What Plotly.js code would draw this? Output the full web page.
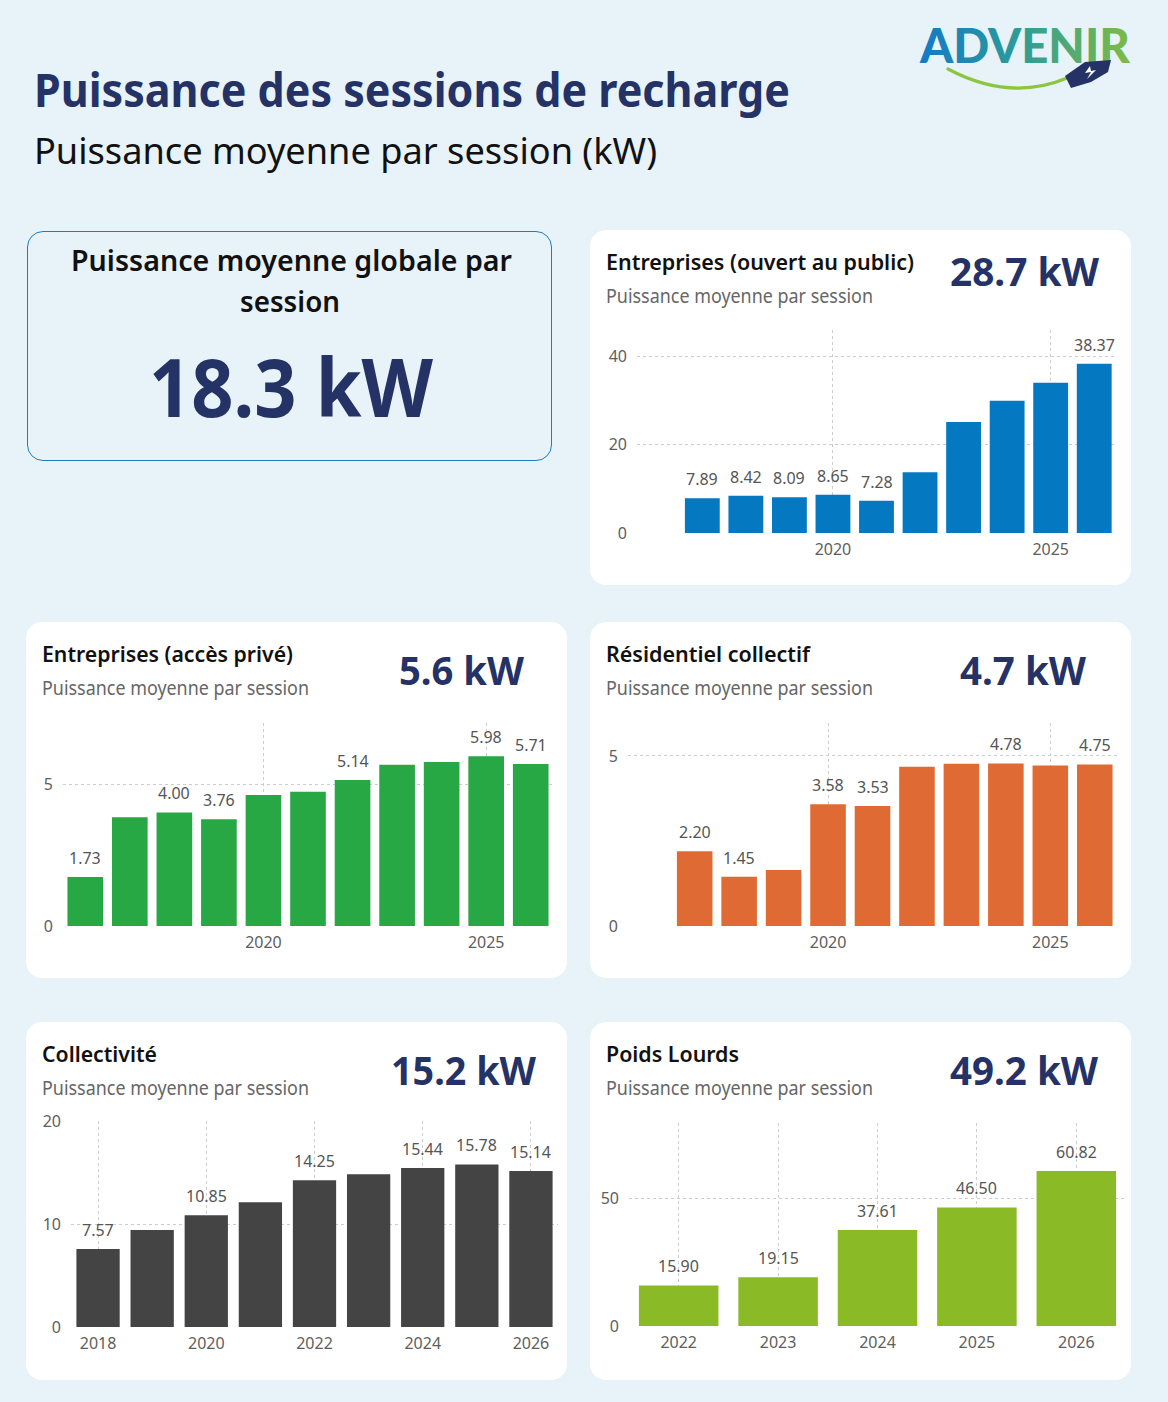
<!DOCTYPE html>
<html>
<head>
<meta charset="utf-8">
<script src="https://cdn.plot.ly/plotly-3.0.1.min.js"></script>
<style>
html,body{margin:0;padding:0;}
body{width:1168px;height:1402px;background:#e8f3f9;position:relative;overflow:hidden;font-family:"Noto Sans","Open Sans",sans-serif;}
.card{position:absolute;background:#ffffff;border-radius:16px;}
.kpibox{position:absolute;border:1.3px solid #1c7cc4;border-radius:16px;box-sizing:border-box;}
.txt{position:absolute;white-space:nowrap;transform-origin:0 50%;}
.chart{position:absolute;}
</style>
</head>
<body>
<script>
// ---------- DATA ----------
const yearsPublic  = [2017, 2018, 2019, 2020, 2021, 2022, 2023, 2024, 2025, 2026];
const valuesPublic = [7.89, 8.42, 8.09, 8.65, 7.28, 13.77, 25.13, 29.94, 34.02, 38.37];
const labelsPublic = [true, true, true, true, true, false, false, false, false, true];

const yearsPrive  = [2016, 2017, 2018, 2019, 2020, 2021, 2022, 2023, 2024, 2025, 2026];
const valuesPrive = [1.73, 3.83, 4.00, 3.76, 4.61, 4.73, 5.14, 5.68, 5.78, 5.98, 5.71];
const labelsPrive = [true, false, true, true, false, false, true, false, false, true, true];

const yearsResid  = [2017, 2018, 2019, 2020, 2021, 2022, 2023, 2024, 2025, 2026];
const valuesResid = [2.20, 1.45, 1.65, 3.58, 3.53, 4.68, 4.77, 4.78, 4.72, 4.75];
const labelsResid = [true, true, false, true, true, false, false, true, false, true];

const yearsCollect  = [2018, 2019, 2020, 2021, 2022, 2023, 2024, 2025, 2026];
const valuesCollect = [7.57, 9.42, 10.85, 12.11, 14.25, 14.83, 15.44, 15.78, 15.14];
const labelsCollect = [true, false, true, false, true, false, true, true, true];

const yearsPL  = [2022, 2023, 2024, 2025, 2026];
const valuesPL = [15.90, 19.15, 37.61, 46.50, 60.82];
const labelsPL = [true, true, true, true, true];

const pageTitle = "Puissance des sessions de recharge";
const pageSubtitle = "Puissance moyenne par session (kW)";
const globalLabel = ["Puissance moyenne globale par", "session"];
const globalValue = "18.3 kW";
const cardSubtitle = "Puissance moyenne par session";
const cardTitles = ["Entreprises (ouvert au public)", "Entreprises (accès privé)", "Résidentiel collectif", "Collectivité", "Poids Lourds"];
const cardValues = ["28.7 kW", "5.6 kW", "4.7 kW", "15.2 kW", "49.2 kW"];

// ---------- HELPERS ----------
function addText(txt, x, cy, fs, o) {
  o = o || {};
  const d = document.createElement('div');
  d.className = 'txt';
  d.textContent = txt;
  d.style.fontSize = fs + 'px';
  d.style.lineHeight = fs + 'px';
  d.style.fontWeight = o.weight || 400;
  d.style.color = o.color || '#000';
  d.style.top = (cy - 0.57 * fs) + 'px';
  document.body.appendChild(d);
  const w = d.getBoundingClientRect().width;
  let target = o.w || w;
  let left = x;
  if (o.align === 'center') left = x - target / 2;
  d.style.left = left + 'px';
  if (o.w) d.style.transform = 'scaleX(' + (o.w / w) + ')';
  return d;
}
function addBox(cls, x, y, w, h) {
  const d = document.createElement('div');
  d.className = cls;
  Object.assign(d.style, {left: x + 'px', top: y + 'px', width: w + 'px', height: h + 'px'});
  document.body.appendChild(d);
  return d;
}

// ---------- STATIC LAYOUT ----------
const NAVY = '#243266';
addText(pageTitle, 34, 92, 46, {weight: 700, color: NAVY, w: 756});
addText(pageSubtitle, 34, 152, 37, {weight: 400, color: '#111', w: 623});

addBox('kpibox', 27, 231, 525, 230);
addText(globalLabel[0], 291, 262, 29, {weight: 600, color: '#111', align: 'center', w: 441});
addText(globalLabel[1], 290, 303, 29, {weight: 600, color: '#111', align: 'center', w: 100});
addText(globalValue, 291, 392, 80, {weight: 700, color: NAVY, align: 'center', w: 284});

const cards = [
  {x: 590, y: 230, w: 541, h: 355, tw: 308, vx: 1024, vy: 273, vw: 149},
  {x: 26,  y: 622, w: 541, h: 356, tw: 251, vx: 461,  vy: 672, vw: 125},
  {x: 590, y: 622, w: 541, h: 356, tw: 204, vx: 1023, vy: 672, vw: 126},
  {x: 26,  y: 1022, w: 541, h: 358, tw: 115, vx: 463, vy: 1072, vw: 145},
  {x: 590, y: 1022, w: 541, h: 358, tw: 133, vx: 1024, vy: 1072, vw: 148}
];
cards.forEach((c, i) => {
  addBox('card', c.x, c.y, c.w, c.h);
  addText(cardTitles[i], c.x + 16, c.y + 33, 22, {weight: 600, color: '#111', w: c.tw});
  addText(cardSubtitle, c.x + 16, c.y + 68, 19, {weight: 400, color: '#666', w: 267});
  addText(cardValues[i], c.vx, c.vy, 39, {weight: 700, color: NAVY, align: 'center', w: c.vw});
});

// ---------- LOGO ----------
const logo = document.createElement('div');
logo.style.position = 'absolute'; logo.style.left = '915px'; logo.style.top = '18px';
logo.innerHTML =
 '<svg width="230" height="80" xmlns="http://www.w3.org/2000/svg">' +
 '<defs><linearGradient id="lg" x1="0" x2="1" y1="0" y2="0">' +
 '<stop offset="0" stop-color="#1479c6"/><stop offset="0.45" stop-color="#2a9a9c"/>' +
 '<stop offset="1" stop-color="#7dbb45"/></linearGradient></defs>' +
 '<text x="5" y="45" font-family="Lato, Noto Sans, sans-serif" font-weight="900" font-size="47" fill="url(#lg)" textLength="210" lengthAdjust="spacingAndGlyphs">ADVENIR</text>' +
 '<path d="M33 51 Q 95 84 152 60" fill="none" stroke="#8cc63f" stroke-width="3.2" stroke-linecap="round"/>' +
 '<path d="M150 58 L170 44 L196 42 L193 54 L176 64 L156 70 Z" fill="#243266"/>' +
 '<path d="M175 48 L170 55 L176 54 L172 61 L181 52 L176 53 Z" fill="#ffffff"/>' +
 '</svg>';
document.body.appendChild(logo);

// ---------- CHARTS ----------
const FONT = 'Noto Sans, Open Sans, sans-serif';
function makeChart(cfg) {
  const div = addBox('chart', cfg.left, cfg.top, cfg.w, cfg.h);
  const annotations = [];
  cfg.x.forEach((xv, i) => {
    if (cfg.show[i]) annotations.push({
      x: xv, y: cfg.y[i], xref: 'x', yref: 'y', text: cfg.y[i].toFixed(2),
      showarrow: false, yanchor: 'middle', xanchor: 'center', yshift: 19,
      font: {family: FONT, size: 16, color: '#555555'}
    });
  });
  const trace = {
    type: 'bar', x: cfg.x, y: cfg.y, width: 0.8,
    marker: {color: cfg.color, line: {width: 0}},
    hoverinfo: 'none'
  };
  const grid = {showgrid: true, gridcolor: '#cccccc', griddash: 'dot', gridwidth: 1, zeroline: false, showline: false, ticks: ''};
  const tf = {family: FONT, size: 16, color: '#605e5c'};
  const layout = {
    width: cfg.w, height: cfg.h,
    margin: {l: cfg.l, r: cfg.r, t: cfg.t, b: cfg.b, pad: 0},
    paper_bgcolor: 'rgba(0,0,0,0)', plot_bgcolor: 'rgba(0,0,0,0)',
    showlegend: false,
    font: {family: FONT, size: 16, color: '#605e5c'},
    xaxis: Object.assign({}, grid, {range: cfg.xr, tickvals: cfg.xt, ticktext: cfg.xt.map(String), ticklabelstandoff: 5, tickfont: tf}),
    yaxis: Object.assign({}, grid, {range: cfg.yr, tickvals: cfg.yt, ticktext: cfg.yt.map(String), ticklabelstandoff: 9, tickfont: tf}),
    annotations: annotations
  };
  Plotly.newPlot(div, [trace], layout, {displayModeBar: false, staticPlot: true});
}

makeChart({left: 590, top: 300, w: 540, h: 270, l: 47, r: 14, t: 30, b: 37,
  x: yearsPublic, y: valuesPublic, show: labelsPublic, color: '#0479c2',
  xr: [2015.5, 2026.5], xt: [2020, 2025], yr: [0, 46], yt: [0, 20, 40]});

makeChart({left: 26, top: 693, w: 541, h: 270, l: 37, r: 14, t: 30, b: 37,
  x: yearsPrive, y: valuesPrive, show: labelsPrive, color: '#28a745',
  xr: [2015.5, 2026.5], xt: [2020, 2025], yr: [0, 7.15], yt: [0, 5]});

makeChart({left: 590, top: 693, w: 540, h: 270, l: 38, r: 13, t: 30, b: 37,
  x: yearsResid, y: valuesResid, show: labelsResid, color: '#e06a34',
  xr: [2015.5, 2026.5], xt: [2020, 2025], yr: [0, 5.97], yt: [0, 5]});

makeChart({left: 26, top: 1091, w: 541, h: 275, l: 44.5, r: 9, t: 30, b: 39,
  x: yearsCollect, y: valuesCollect, show: labelsCollect, color: '#444444',
  xr: [2017.5, 2026.5], xt: [2018, 2020, 2022, 2024, 2026], yr: [0, 20], yt: [0, 10, 20]});

makeChart({left: 590, top: 1093, w: 540, h: 270, l: 39, r: 4, t: 30, b: 37,
  x: yearsPL, y: valuesPL, show: labelsPL, color: '#8abb26',
  xr: [2021.5, 2026.5], xt: [2022, 2023, 2024, 2025, 2026], yr: [0, 79.6], yt: [0, 50]});
</script>
</body>
</html>
